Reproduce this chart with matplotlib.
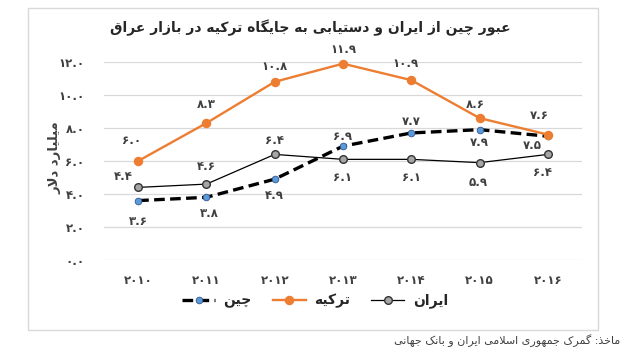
import matplotlib
matplotlib.use("Agg")
import matplotlib.pyplot as plt
from matplotlib.patches import Rectangle
from matplotlib.lines import Line2D

plt.rcParams['font.family'] = ['DejaVu Sans']

# ---------------- data ----------------
years = [2010, 2011, 2012, 2013, 2014, 2015, 2016]
china = [3.6, 3.8, 4.9, 6.9, 7.7, 7.9, 7.5]
turkey = [6.0, 8.3, 10.8, 11.9, 10.9, 8.6, 7.6]
iran = [4.4, 4.6, 6.4, 6.1, 6.1, 5.9, 6.4]
yticks = [0, 2, 4, 6, 8, 10, 12]

title_txt = "عبور چین از ایران و دستیابی به جایگاه ترکیه در بازار عراق"
ylabel_txt = "میلیارد دلار"
name_china = "چین"
name_turkey = "ترکیه"
name_iran = "ایران"
source_txt = "ماخذ: گمرک جمهوری اسلامی ایران و بانک جهانی"

# ---------------- Persian shaping helpers ----------------
FORMS = {
    '\u0627': ('\uFE8D', '\uFE8E'),
    '\u062F': ('\uFEA9', '\uFEAA'),
    '\u0630': ('\uFEAB', '\uFEAC'),
    '\u0631': ('\uFEAD', '\uFEAE'),
    '\u0632': ('\uFEAF', '\uFEB0'),
    '\u0648': ('\uFEED', '\uFEEE'),
    '\u0628': ('\uFE8F', '\uFE90', '\uFE91', '\uFE92'),
    '\u067E': ('\uFB56', '\uFB57', '\uFB58', '\uFB59'),
    '\u062A': ('\uFE95', '\uFE96', '\uFE97', '\uFE98'),
    '\u062C': ('\uFE9D', '\uFE9E', '\uFE9F', '\uFEA0'),
    '\u0686': ('\uFB7A', '\uFB7B', '\uFB7C', '\uFB7D'),
    '\u062E': ('\uFEA5', '\uFEA6', '\uFEA7', '\uFEA8'),
    '\u0633': ('\uFEB1', '\uFEB2', '\uFEB3', '\uFEB4'),
    '\u0639': ('\uFEC9', '\uFECA', '\uFECB', '\uFECC'),
    '\u0642': ('\uFED5', '\uFED6', '\uFED7', '\uFED8'),
    '\u06A9': ('\uFB8E', '\uFB8F', '\uFB90', '\uFB91'),
    '\u06AF': ('\uFB92', '\uFB93', '\uFB94', '\uFB95'),
    '\u0644': ('\uFEDD', '\uFEDE', '\uFEDF', '\uFEE0'),
    '\u0645': ('\uFEE1', '\uFEE2', '\uFEE3', '\uFEE4'),
    '\u0646': ('\uFEE5', '\uFEE6', '\uFEE7', '\uFEE8'),
    '\u0647': ('\uFEE9', '\uFEEA', '\uFEEB', '\uFEEC'),
    '\u06CC': ('\uFBFC', '\uFBFD', '\uFBFE', '\uFBFF'),
}


def _dual(c):
    return c in FORMS and len(FORMS[c]) == 4


def shape_word(w):
    out = []
    i, n = 0, len(w)
    prev_joins = False
    while i < n:
        c = w[i]
        if c not in FORMS:
            out.append(c)
            prev_joins = False
            i += 1
            continue
        if c == '\u0644' and i + 1 < n and w[i + 1] == '\u0627':
            out.append('\uFEFC' if prev_joins else '\uFEFB')
            prev_joins = False
            i += 2
            continue
        nxt = w[i + 1] if i + 1 < n else ''
        join_next = _dual(c) and nxt in FORMS
        f = FORMS[c]
        if prev_joins and join_next:
            g = f[3]
        elif prev_joins:
            g = f[1]
        elif join_next:
            g = f[2]
        else:
            g = f[0]
        out.append(g)
        prev_joins = _dual(c)
        i += 1
    return ''.join(out)


def vis_word(w):
    return shape_word(w)[::-1]


def vis_rtl(s):
    # right-to-left display order for a left-to-right renderer
    return ' '.join(vis_word(w) for w in reversed(s.split()))


PDIG = str.maketrans('0123456789', '۰۱۲۳۴۵۶۷۸۹')


def fa_num(s):
    return str(s).translate(PDIG)


# ---------------- figure ----------------
W, H = 630, 355
fig = plt.figure(figsize=(W / 100, H / 100), dpi=100)
fig.patch.set_facecolor('white')

# outer chart border
fig.patches.append(Rectangle((28 / W, 1 - 330 / H), (598 - 28) / W, (330 - 8) / H,
                             transform=fig.transFigure, fill=False,
                             edgecolor='#D9D9D9', linewidth=1.0))

ax = fig.add_axes([104 / W, 1 - 260 / H, (582 - 104) / W, (260 - 62) / H])
x = list(range(len(years)))
ax.set_xlim(-0.5, len(years) - 0.5)
ax.set_ylim(0, 12)
for s in ax.spines.values():
    s.set_visible(False)
ax.set_yticks(yticks)
ax.set_yticklabels([fa_num(f"{v:.1f}") for v in yticks], fontsize=8.5,
                   fontweight='bold', color='#404040')
ax.set_xticks(x)
ax.set_xticklabels([fa_num(y) for y in years], fontsize=8.5,
                   fontweight='bold', color='#404040')
ax.tick_params(axis='both', length=0)
ax.tick_params(axis='y', pad=14)
ax.tick_params(axis='x', pad=10)
ax.grid(axis='y', color='#D9D9D9', linewidth=0.9)
ax.set_axisbelow(True)

ln_iran, = ax.plot(x, iran, color='black', linewidth=0.9, marker='o',
                   markersize=5.5, markerfacecolor='#A5A5A5',
                   markeredgecolor='#333333', markeredgewidth=1.0,
                   zorder=3, clip_on=False)
ln_china, = ax.plot(x, china, color='black', linewidth=2.4,
                    dashes=(3.2, 1.6), marker='o', markersize=4.8,
                    markerfacecolor='#5B9BD5', markeredgecolor='#2F5597',
                    markeredgewidth=0.6, zorder=4, clip_on=False)
ln_turkey, = ax.plot(x, turkey, color='#ED7D31', linewidth=1.7, marker='o',
                     markersize=5.8, markerfacecolor='#ED7D31',
                     markeredgecolor='#ED7D31', zorder=5, clip_on=False)

# data labels (offsets in points)
off_turkey = [(-5, 15), (0, 13), (0, 11), (0, 10), (-4, 12), (-3, 10), (-6, 14)]
off_china = [(0, -15), (2, -12), (0, -12), (0, 7), (0, 8), (0, -9), (-11, -7)]
off_iran = [(-11, 8), (0, 13), (0, 10), (0, -13), (0, -13), (-1, -14), (-4, -13)]

lab_kw = dict(textcoords='offset points', ha='center', va='center',
              fontsize=8.5, fontweight='bold', color='#404040', zorder=6)
for series, offs in ((turkey, off_turkey), (china, off_china), (iran, off_iran)):
    for xi, v, o in zip(x, series, offs):
        ax.annotate(fa_num(f"{v:.1f}"), (xi, v), xytext=o, **lab_kw)

# y label
fig.text(55 / W, 1 - 158 / H, vis_rtl(ylabel_txt), rotation=90,
         ha='center', va='center', fontsize=9.5, fontweight='bold',
         color='#404040')

# title
fig.text(310 / W, 1 - 28 / H, vis_rtl(title_txt), ha='center',
         va='center', fontsize=10, fontweight='bold', color='#262626')

# legend
h_china = Line2D([], [], color='black', linewidth=2.4, dashes=(3.2, 1.6),
                 marker='o', markersize=4.8, markerfacecolor='#5B9BD5',
                 markeredgecolor='#2F5597', markeredgewidth=0.6)
h_turkey = Line2D([], [], color='#ED7D31', linewidth=1.7, marker='o',
                  markersize=5.8, markerfacecolor='#ED7D31',
                  markeredgecolor='#ED7D31')
h_iran = Line2D([], [], color='black', linewidth=0.9, marker='o',
                markersize=5.5, markerfacecolor='#A5A5A5',
                markeredgecolor='#333333', markeredgewidth=1.0)
leg = fig.legend([h_china, h_turkey, h_iran],
                 [vis_word(name_china), vis_word(name_turkey), vis_word(name_iran)],
                 loc='center', bbox_to_anchor=(315 / W, 1 - 301 / H), ncol=3,
                 frameon=False, fontsize=10, handlelength=2.4,
                 columnspacing=1.5, handletextpad=0.6)
for t in leg.get_texts():
    t.set_color('#262626')
    t.set_fontweight('bold')

# source
fig.text(620 / W, 1 - 341 / H, vis_rtl(source_txt),
         ha='right', va='center', fontsize=8, color='#404040')

fig.savefig('out.png', dpi=100)
